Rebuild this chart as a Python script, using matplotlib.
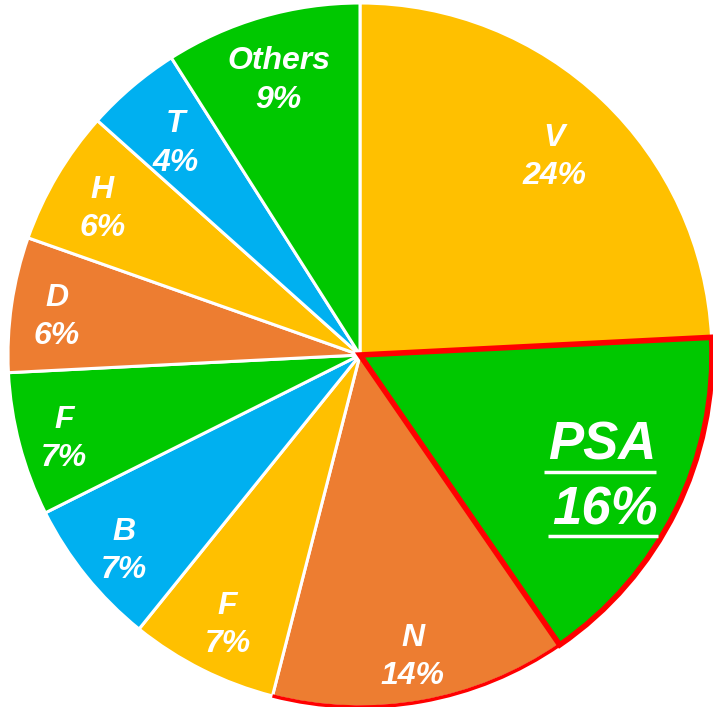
import matplotlib.pyplot as plt
from matplotlib.patches import Arc
import numpy as np

labels = ["V", "PSA", "N", "F", "B", "F", "D", "H", "T", "Others"]
shares = [24.2, 16.2, 13.6, 6.8, 6.8, 6.6, 6.2, 6.2, 4.4, 9.0]
pct_text = ["24%", "16%", "14%", "7%", "7%", "7%", "6%", "6%", "4%", "9%"]
colors = ["#FFC000", "#00C800", "#ED7D31", "#FFC000", "#00B0F0",
          "#00C800", "#ED7D31", "#FFC000", "#00B0F0", "#00C800"]
label_r = [0.80, 0.76, 0.855, 0.84, 0.86, 0.87, 0.87, 0.85, 0.81, 0.83]

fig = plt.figure(figsize=(7.13, 7.14), dpi=100)
ax = fig.add_axes([8/713, 7/714, 704/713, 704/714])

wedges, _ = ax.pie(shares, colors=colors, startangle=90, counterclock=False,
                   wedgeprops=dict(edgecolor="white", linewidth=2.2))
ax.set_xlim(-1, 1)
ax.set_ylim(-1, 1)
ax.set_aspect("auto")
ax.axis("off")

# PSA slice outlined in red
psa = wedges[1]
psa.set_edgecolor("red")
psa.set_linewidth(4)
psa.set_zorder(5)
psa.set_joinstyle("miter")

# red arc along the bottom of N
n = wedges[2]
ax.add_patch(Arc((0, 0), 2, 2, theta1=n.theta1, theta2=n.theta2,
                 color="red", linewidth=2.5, zorder=6))

fig.canvas.draw()
rend = fig.canvas.get_renderer()
for i, w in enumerate(wedges):
    mid = np.deg2rad((w.theta1 + w.theta2) / 2)
    x, y = label_r[i] * np.cos(mid), label_r[i] * np.sin(mid)
    if labels[i] == "PSA":
        t1 = ax.text(x + 0.006, y + 0.078, "PSA", color="white", fontsize=38,
                     fontweight="bold", style="italic", family="Liberation Sans",
                     ha="center", va="center", zorder=10)
        t2 = ax.text(x + 0.015, y - 0.104, pct_text[i], color="white", fontsize=38,
                     fontweight="bold", style="italic", family="Liberation Sans",
                     ha="center", va="center", zorder=10)
        fig.canvas.draw()
        inv = ax.transData.inverted()
        for t in (t1, t2):
            bb = t.get_window_extent(rend)
            (x0, y0), (x1, _) = inv.transform([(bb.x0 - 4, bb.y0), (bb.x1, bb.y1)])
            ax.plot([x0, x1], [y0 - 0.004, y0 - 0.004], color="white",
                    lw=2.5, zorder=10, solid_capstyle="butt")
    else:
        ax.text(x, y - 0.017, f"{labels[i]}\n{pct_text[i]}", color="white",
                fontsize=23, fontweight="bold", style="italic",
                family="Liberation Sans", ha="center", va="center",
                linespacing=1.36, zorder=10)

fig.savefig("out.png", dpi=100)
